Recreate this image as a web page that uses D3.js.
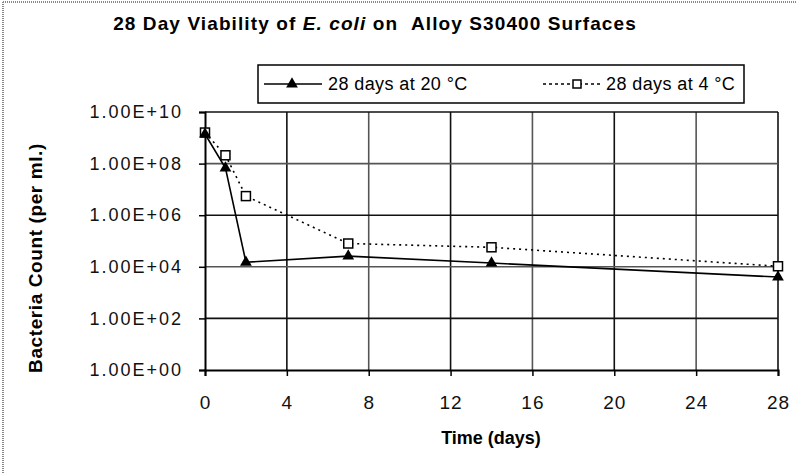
<!DOCTYPE html>
<html>
<head>
<meta charset="utf-8">
<script src="https://cdn.jsdelivr.net/npm/d3@7"></script>
<style>
  body { margin: 0; background: #fff; }
  svg { display: block; font-family: "Liberation Sans", Arial, sans-serif; }
</style>
</head>
<body>
<script>
(function() {

	// data
	var days = [0, 1, 2, 7, 14, 28];
	var warm = [1.4e9, 6.7e7, 1.5e4, 2.6e4, 1.4e4, 4.0e3];   // 28 days at 20 C
	var cold = [1.6e9, 2.1e8, 5.5e6, 8.0e4, 5.7e4, 1.05e4];  // 28 days at 4 C
	var xTicks = [0, 4, 8, 12, 16, 20, 24, 28];
	var yTicks = [1e0, 1e2, 1e4, 1e6, 1e8, 1e10];
	var yTickLabels = ["1.00E+00", "1.00E+02", "1.00E+04", "1.00E+06", "1.00E+08", "1.00E+10"];

	var W = 796, H = 473;
	var plot = { left: 205, right: 778, top: 112, bottom: 370 };

	var svg = d3.select("body").append("svg")
		.attr("width", W)
		.attr("height", H);

	// frame edges of the scanned page
	svg.append("line").attr("x1", 3).attr("x2", 3).attr("y1", 2).attr("y2", H)
		.attr("stroke", "#888").attr("stroke-width", 2).attr("stroke-dasharray", "1,1");
	svg.append("line").attr("x1", 3).attr("x2", W).attr("y1", 2).attr("y2", 2)
		.attr("stroke", "#888").attr("stroke-width", 2).attr("stroke-dasharray", "1,1");

	var x = d3.scaleLinear().domain([0, 28]).range([plot.left, plot.right]);
	var y = d3.scaleLog().domain([1, 1e10]).range([plot.bottom, plot.top]);

	// grid
	var grid = svg.append("g").attr("class", "grid");
	grid.selectAll(".gx")
		.data(xTicks.slice(1))
		.enter().append("line")
		.attr("x1", function(d) { return x(d); })
		.attr("x2", function(d) { return x(d); })
		.attr("y1", plot.top)
		.attr("y2", plot.bottom)
		.attr("stroke", function(d, i) { return i % 2 ? "#555" : "#111"; })
		.attr("stroke-width", 1.6);
	grid.selectAll(".gy")
		.data(yTicks.slice(1))
		.enter().append("line")
		.attr("x1", plot.left)
		.attr("x2", plot.right)
		.attr("y1", function(d) { return y(d); })
		.attr("y2", function(d) { return y(d); })
		.attr("stroke", function(d, i) { return i % 2 ? "#555" : "#111"; })
		.attr("stroke-width", 1.6);

	// axes
	var xAxis = d3.axisBottom(x)
		.tickValues(xTicks)
		.tickSize(6)
		.tickPadding(20)
		.tickFormat(d3.format("d"));
	var gx = svg.append("g")
		.attr("transform", "translate(0," + plot.bottom + ")")
		.call(xAxis);

	var yAxis = d3.axisLeft(y)
		.tickValues(yTicks)
		.tickSize(6)
		.tickPadding(16)
		.tickFormat(function(d, i) { return yTickLabels[i]; });
	var gy = svg.append("g")
		.attr("transform", "translate(" + plot.left + ",0)")
		.call(yAxis);

	[gx, gy].forEach(function(g) {
		g.select(".domain").attr("stroke", "#000").attr("stroke-width", 2);
		g.selectAll(".tick line").attr("stroke", "#000").attr("stroke-width", 1.5);
		g.selectAll(".tick text")
			.attr("fill", "#111")
			.style("font-family", "\"Liberation Sans\", Arial, sans-serif")
			.style("font-size", "18px");
	});
	gy.selectAll(".tick text").style("letter-spacing", "2px");
	gx.selectAll(".tick text").style("font-size", "19px").style("letter-spacing", "1px");

	// lines
	var warmPts = days.map(function(d, i) { return [d, warm[i]]; });
	var coldPts = days.map(function(d, i) { return [d, cold[i]]; });
	var line = d3.line()
		.x(function(d) { return x(d[0]); })
		.y(function(d) { return y(d[1]); });

	svg.append("path")
		.datum(coldPts)
		.attr("d", line)
		.attr("fill", "none")
		.attr("stroke", "#000")
		.attr("stroke-width", 1.6)
		.attr("stroke-dasharray", "2,4");

	svg.append("path")
		.datum(warmPts)
		.attr("d", line)
		.attr("fill", "none")
		.attr("stroke", "#000")
		.attr("stroke-width", 1.6);

	var tri = d3.symbol().type(d3.symbolTriangle).size(60);

	svg.selectAll(".sq")
		.data(coldPts)
		.enter().append("rect")
		.attr("x", function(d) { return x(d[0]) - 4.5; })
		.attr("y", function(d) { return y(d[1]) - 4.5; })
		.attr("width", 9)
		.attr("height", 9)
		.attr("fill", "#fff")
		.attr("stroke", "#000")
		.attr("stroke-width", 1.5);

	svg.selectAll(".tri")
		.data(warmPts)
		.enter().append("path")
		.attr("d", tri)
		.attr("transform", function(d) { return "translate(" + x(d[0]) + "," + y(d[1]) + ")"; })
		.attr("fill", "#000");

	// title
	var title = svg.append("text")
		.attr("x", 375)
		.attr("y", 30)
		.attr("text-anchor", "middle")
		.style("font-size", "19px")
		.style("font-weight", "bold")
		.style("letter-spacing", "1.1px");
	title.append("tspan").text("28 Day Viability of ");
	title.append("tspan").style("font-style", "italic").text("E. coli");
	title.append("tspan").text(" on \u00a0Alloy S30400 Surfaces");

	// axis titles
	svg.append("text")
		.attr("x", 491)
		.attr("y", 444)
		.attr("text-anchor", "middle")
		.style("font-size", "18px")
		.style("font-weight", "bold")
		.text("Time (days)");

	svg.append("text")
		.attr("transform", "translate(42," + 258 + ") rotate(-90)")
		.attr("text-anchor", "middle")
		.style("font-size", "19px")
		.style("font-weight", "bold")
		.style("letter-spacing", "0.6px")
		.text("Bacteria Count (per ml.)");

	// legend
	var legend = svg.append("g");
	legend.append("rect")
		.attr("x", 258)
		.attr("y", 65)
		.attr("width", 486)
		.attr("height", 38)
		.attr("fill", "#fff")
		.attr("stroke", "#000")
		.attr("stroke-width", 1.5);

	legend.append("line")
		.attr("x1", 264).attr("x2", 322).attr("y1", 84).attr("y2", 84)
		.attr("stroke", "#000").attr("stroke-width", 1.6);
	legend.append("path")
		.attr("d", tri)
		.attr("transform", "translate(292,84)")
		.attr("fill", "#000");
	legend.append("text")
		.attr("x", 328).attr("y", 90)
		.style("font-size", "18px")
		.style("letter-spacing", "0.4px")
		.text("28 days at 20  \u00b0C");

	legend.append("line")
		.attr("x1", 543).attr("x2", 600).attr("y1", 84).attr("y2", 84)
		.attr("stroke", "#000").attr("stroke-width", 1.6)
		.attr("stroke-dasharray", "3,3");
	legend.append("rect")
		.attr("x", 573).attr("y", 80).attr("width", 8).attr("height", 8)
		.attr("fill", "#fff").attr("stroke", "#000").attr("stroke-width", 1.5);
	legend.append("text")
		.attr("x", 606).attr("y", 90)
		.style("font-size", "18px")
		.style("letter-spacing", "0.4px")
		.text("28 days at 4  \u00b0C");

})();
</script>
</body>
</html>
